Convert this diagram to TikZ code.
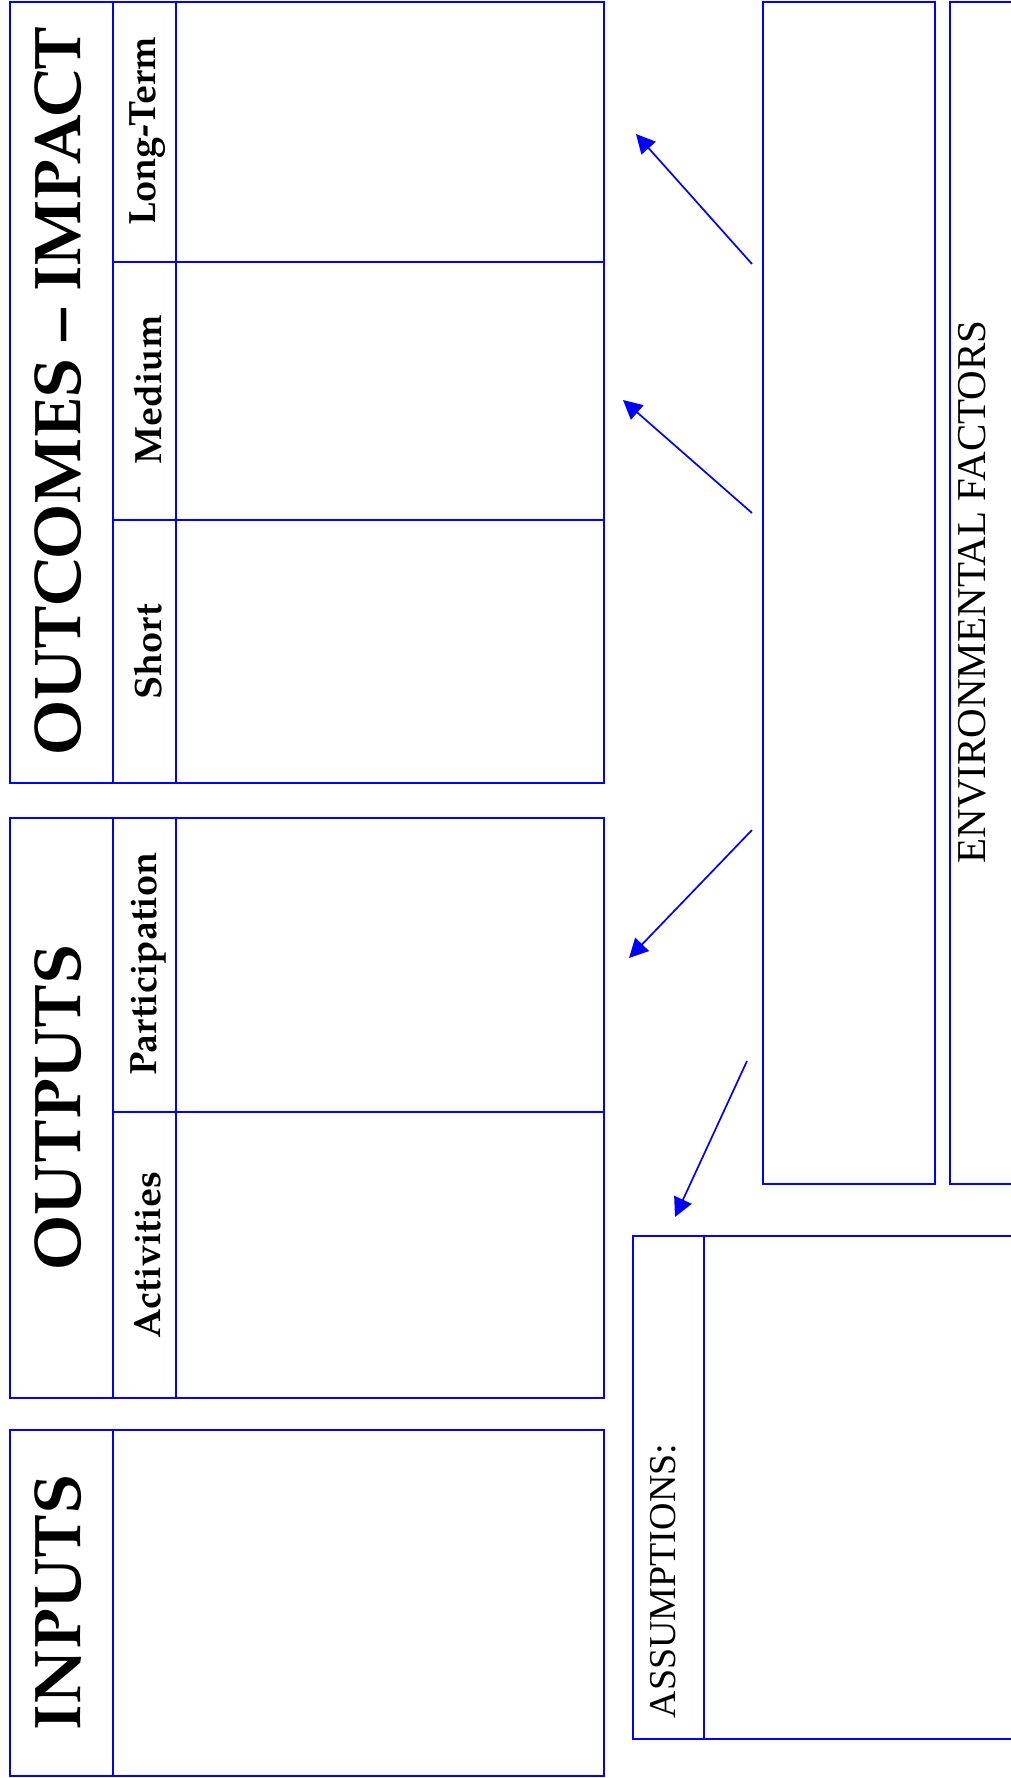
\documentclass[tikz,border=0pt]{standalone}
\usepackage{fontspec}
\setmainfont{Liberation Serif}
\newfontfamily\pal{TeX Gyre Pagella}
\usetikzlibrary{arrows.meta}
\definecolor{lineblue}{RGB}{0,0,255}
\tikzset{
  cellbox/.style={draw=lineblue, line width=2pt, rectangle, inner sep=0pt, anchor=north west},
  divider/.style={draw=lineblue, line width=2pt},
  bigtitle/.style={rotate=90, inner sep=0pt, font=\pal\bfseries\fontsize{66}{70}\selectfont},
  subtitle/.style={rotate=90, inner sep=0pt, font=\pal\bfseries\fontsize{38}{42}\selectfont},
  sidetitle/.style={rotate=90, inner sep=0pt},
  flow/.style={draw=lineblue, line width=1.7pt, -{Triangle[length=19pt,width=19pt]}}
}
\begin{document}
\begin{tikzpicture}[x=1pt,y=-1pt]
\clip (0,0) rectangle (1011,1778);
\fill[white] (0,0) rectangle (1011,1778);
% OUTCOMES - IMPACT
\node[cellbox, minimum width=594pt, minimum height=781pt] (outc) at (9,1) {};
\draw[divider] (113,1) -- (113,782);
\draw[divider] (176,1) -- (176,782);
\draw[divider] (113,262) -- (603,262);
\draw[divider] (113,520) -- (603,520);
\node[bigtitle] (tOutc) at (58,391) {OUTCOMES – IMPACT};
\node[subtitle] (tLong) at (148,131) {Long-Term};
\node[subtitle] (tMed) at (148,390) {Medium};
\node[subtitle] (tShort) at (148,652) {Short};
% OUTPUTS
\node[cellbox, minimum width=594pt, minimum height=580pt] (outp) at (9,817) {};
\draw[divider] (113,817) -- (113,1397);
\draw[divider] (176,817) -- (176,1397);
\draw[divider] (113,1112) -- (603,1112);
\node[bigtitle] (tOutp) at (58,1107) {OUTPUTS};
\node[subtitle] (tPart) at (148,964) {Participation};
\node[subtitle] (tAct) at (148,1255) {Activities};
% INPUTS
\node[cellbox, minimum width=594pt, minimum height=346pt] (inp) at (9,1429) {};
\draw[divider] (113,1429) -- (113,1775);
\node[bigtitle] (tInp) at (58,1602) {INPUTS};
% ASSUMPTIONS
\node[cellbox, minimum width=400pt, minimum height=503pt] (assum) at (632,1235) {};
\draw[divider] (704,1235) -- (704,1738);
\node[sidetitle, font=\fontsize{38}{42}\selectfont] (tAssum) at (663,1581) {ASSUMPTIONS:};
% middle empty box
\node[cellbox, minimum width=172pt, minimum height=1182pt] (mid) at (762,1) {};
% ENVIRONMENTAL FACTORS
\node[cellbox, minimum width=100pt, minimum height=1182pt] (env) at (949,1) {};
\node[sidetitle, font=\fontsize{41}{45}\selectfont] (tEnv) at (972,592) {ENVIRONMENTAL FACTORS};
% arrows
\coordinate (a1s) at (752,264);  \coordinate (a1e) at (636,134);
\coordinate (a2s) at (752,513);  \coordinate (a2e) at (623,400);
\coordinate (a3s) at (752,830);  \coordinate (a3e) at (629,958);
\coordinate (a4s) at (747,1061); \coordinate (a4e) at (675,1217);
\draw[flow] (a1s) -- (a1e);
\draw[flow] (a2s) -- (a2e);
\draw[flow] (a3s) -- (a3e);
\draw[flow] (a4s) -- (a4e);
\end{tikzpicture}
\end{document}
